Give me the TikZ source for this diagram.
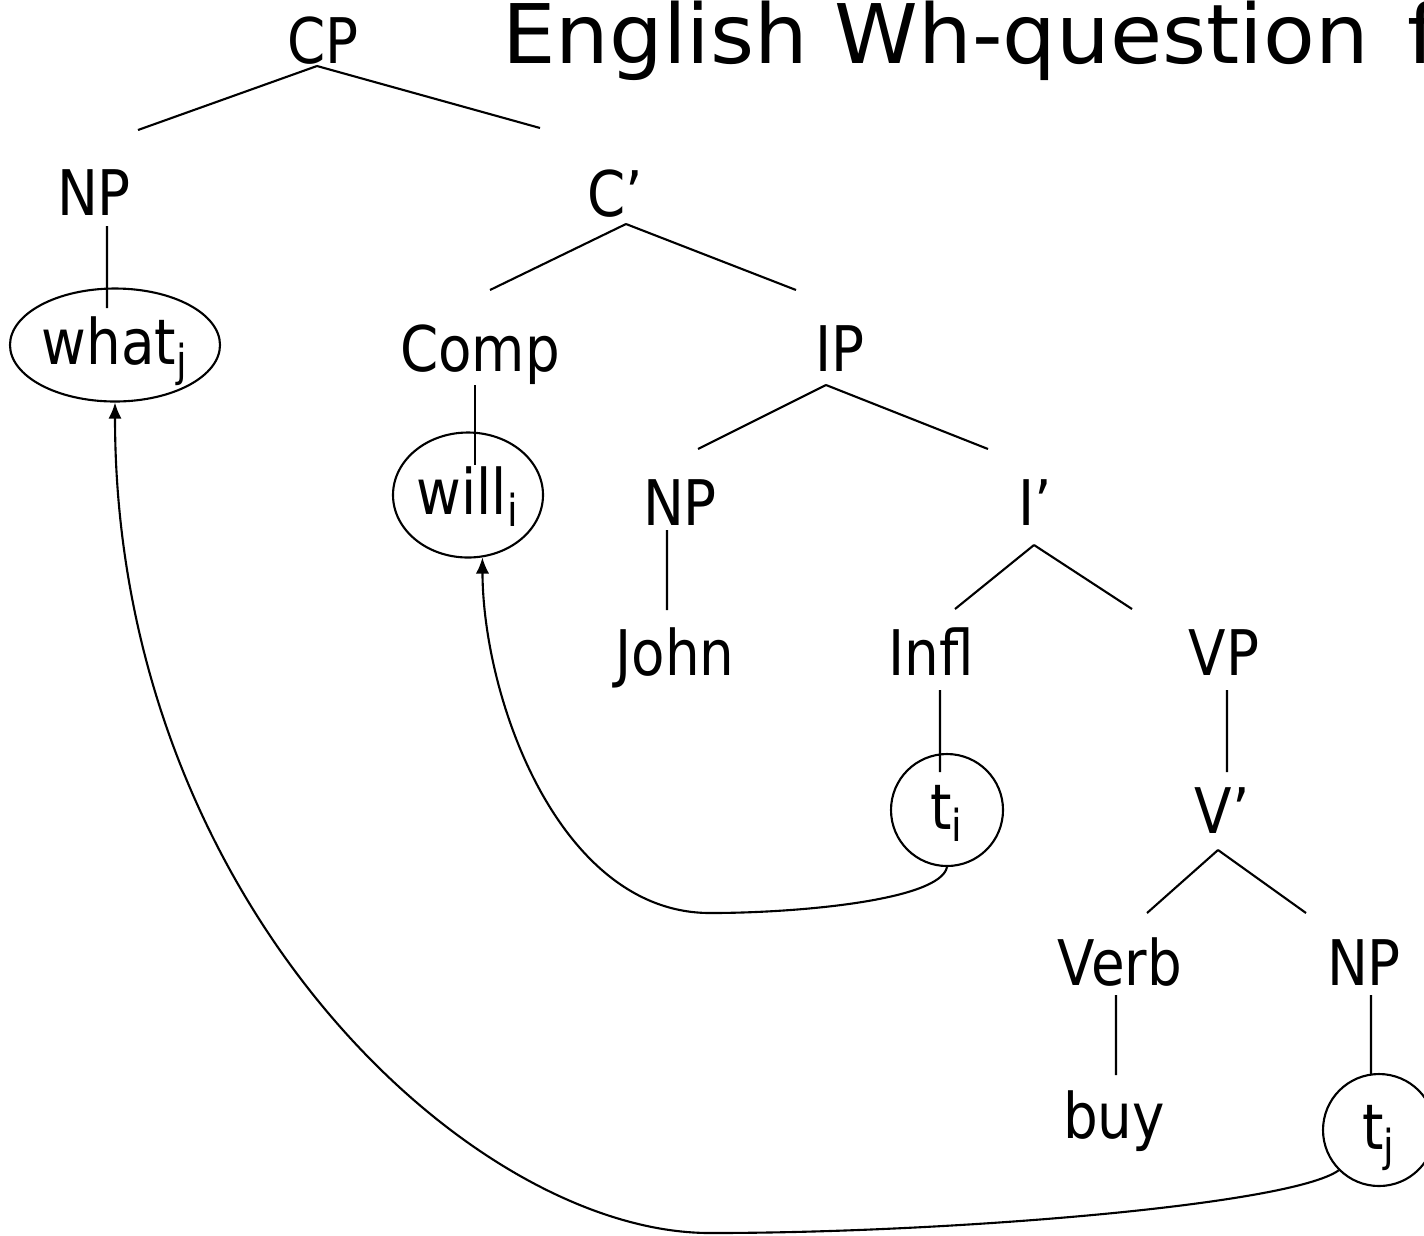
\documentclass[tikz,border=0pt]{standalone}
\usepackage{fontspec}
\setmainfont{DejaVu Sans}[FakeStretch=0.87]
\newfontfamily\titlefont{DejaVu Sans}[FakeStretch=1.03]
\usetikzlibrary{shapes.geometric,calc,arrows.meta}

\begin{document}
\begin{tikzpicture}[line width=0.6pt, font=\fontsize{17.9}{20}\selectfont]
    \tikzstyle{cat}=[inner sep=0pt, text height=0.46cm, text depth=0pt]
    \tikzstyle{word}=[cat]
    \tikzstyle{moved}=[ellipse, draw, inner sep=0pt, text height=0.5cm, text depth=0.12cm]
    \tikzstyle{trace}=[circle, draw, inner sep=0pt, minimum size=1.12cm, text height=0.5cm, text depth=0.12cm]
    \tikzstyle{move}=[-{Latex[length=4.6pt,width=3.8pt]}]

    \useasboundingbox (0,0) rectangle (14.24,-12.35);
    \clip (0,0) rectangle (14.24,-12.35);

    \node[anchor=base west, inner sep=0pt, font=\titlefont\fontsize{23.4}{26}\selectfont] (title) at (5.01,-0.63) {English Wh-question\hspace{0.12cm} f};

    \node[cat] (CP) at (3.23,-0.40) {CP};
    \node[cat] (NP1) at (0.94,-1.92) {NP};
    \node[cat] (C1) at (6.15,-1.93) {C’};
    \node[moved, minimum width=2.10cm, minimum height=1.13cm] (what) at (1.15,-3.45) {what\textsubscript{j}};
    \node[cat] (Comp) at (4.80,-3.48) {Comp};
    \node[cat] (IP) at (8.40,-3.48) {IP};
    \node[moved, minimum width=1.50cm, minimum height=1.25cm] (will) at (4.68,-4.95) {will\textsubscript{i}};
    \node[cat] (NP2) at (6.80,-5.02) {NP};
    \node[cat] (I1) at (10.35,-5.02) {I’};
    \node[word] (John) at (6.75,-6.52) {John};
    \node[cat] (Infl) at (9.31,-6.52) {Infl};
    \node[cat] (VP) at (12.24,-6.52) {VP};
    \node[trace] (ti) at (9.47,-8.10) {t\textsubscript{i}};
    \node[cat] (V1) at (12.22,-8.10) {V’};
    \node[cat] (Verb) at (11.20,-9.62) {Verb};
    \node[cat] (NP3) at (13.64,-9.62) {NP};
    \node[word] (buy) at (11.14,-11.15) {buy};
    \node[trace] (tj) at (13.79,-11.30) {t\textsubscript{j}};

    % branches
    \foreach \a/\ax/\ay/\b/\bx/\by in {CP/-0.06/-0.26/NP1/0.44/0.62, CP/-0.06/-0.26/C1/-0.75/0.65,
        C1/0.11/-0.31/Comp/0.10/0.58, C1/0.11/-0.31/IP/-0.44/0.58,
        IP/-0.14/-0.37/NP2/0.18/0.53, IP/-0.14/-0.37/I1/-0.47/0.53,
        I1/-0.01/-0.43/Infl/0.24/0.43, I1/-0.01/-0.43/VP/-0.92/0.43,
        V1/-0.04/-0.40/Verb/0.27/0.49, V1/-0.04/-0.40/NP3/-0.58/0.49}
        \draw ($(\a)+(\ax,\ay)$) -- ($(\b)+(\bx,\by)$);

    % unary lines
    \foreach \a/\ax/\ay/\b/\bx/\by in {NP1/0.13/-0.34/what/-0.08/0.37, Comp/-0.05/-0.37/will/0.07/0.30,
        NP2/-0.13/-0.28/John/-0.08/0.42, Infl/0.09/-0.38/ti/-0.07/0.38,
        VP/0.03/-0.38/V1/0.05/0.38, Verb/-0.04/-0.33/buy/0.02/0.40,
        NP3/0.07/-0.33/tj/-0.08/0.55}
        \draw ($(\a)+(\ax,\ay)$) -- ($(\b)+(\bx,\by)$);

    % movement
    \draw[move] (ti.south) .. controls (9.40,-9.00) and (8.00,-9.13) .. (7.10,-9.13)
        .. controls (5.60,-9.13) and (4.83,-7.00) .. (will.-77);
    \draw[move] (tj.-135) .. controls (12.90,-12.05) and (9.50,-12.33) .. (7.10,-12.33)
        .. controls (4.70,-12.33) and (1.15,-9.00) .. (what.south);
\end{tikzpicture}
\end{document}
